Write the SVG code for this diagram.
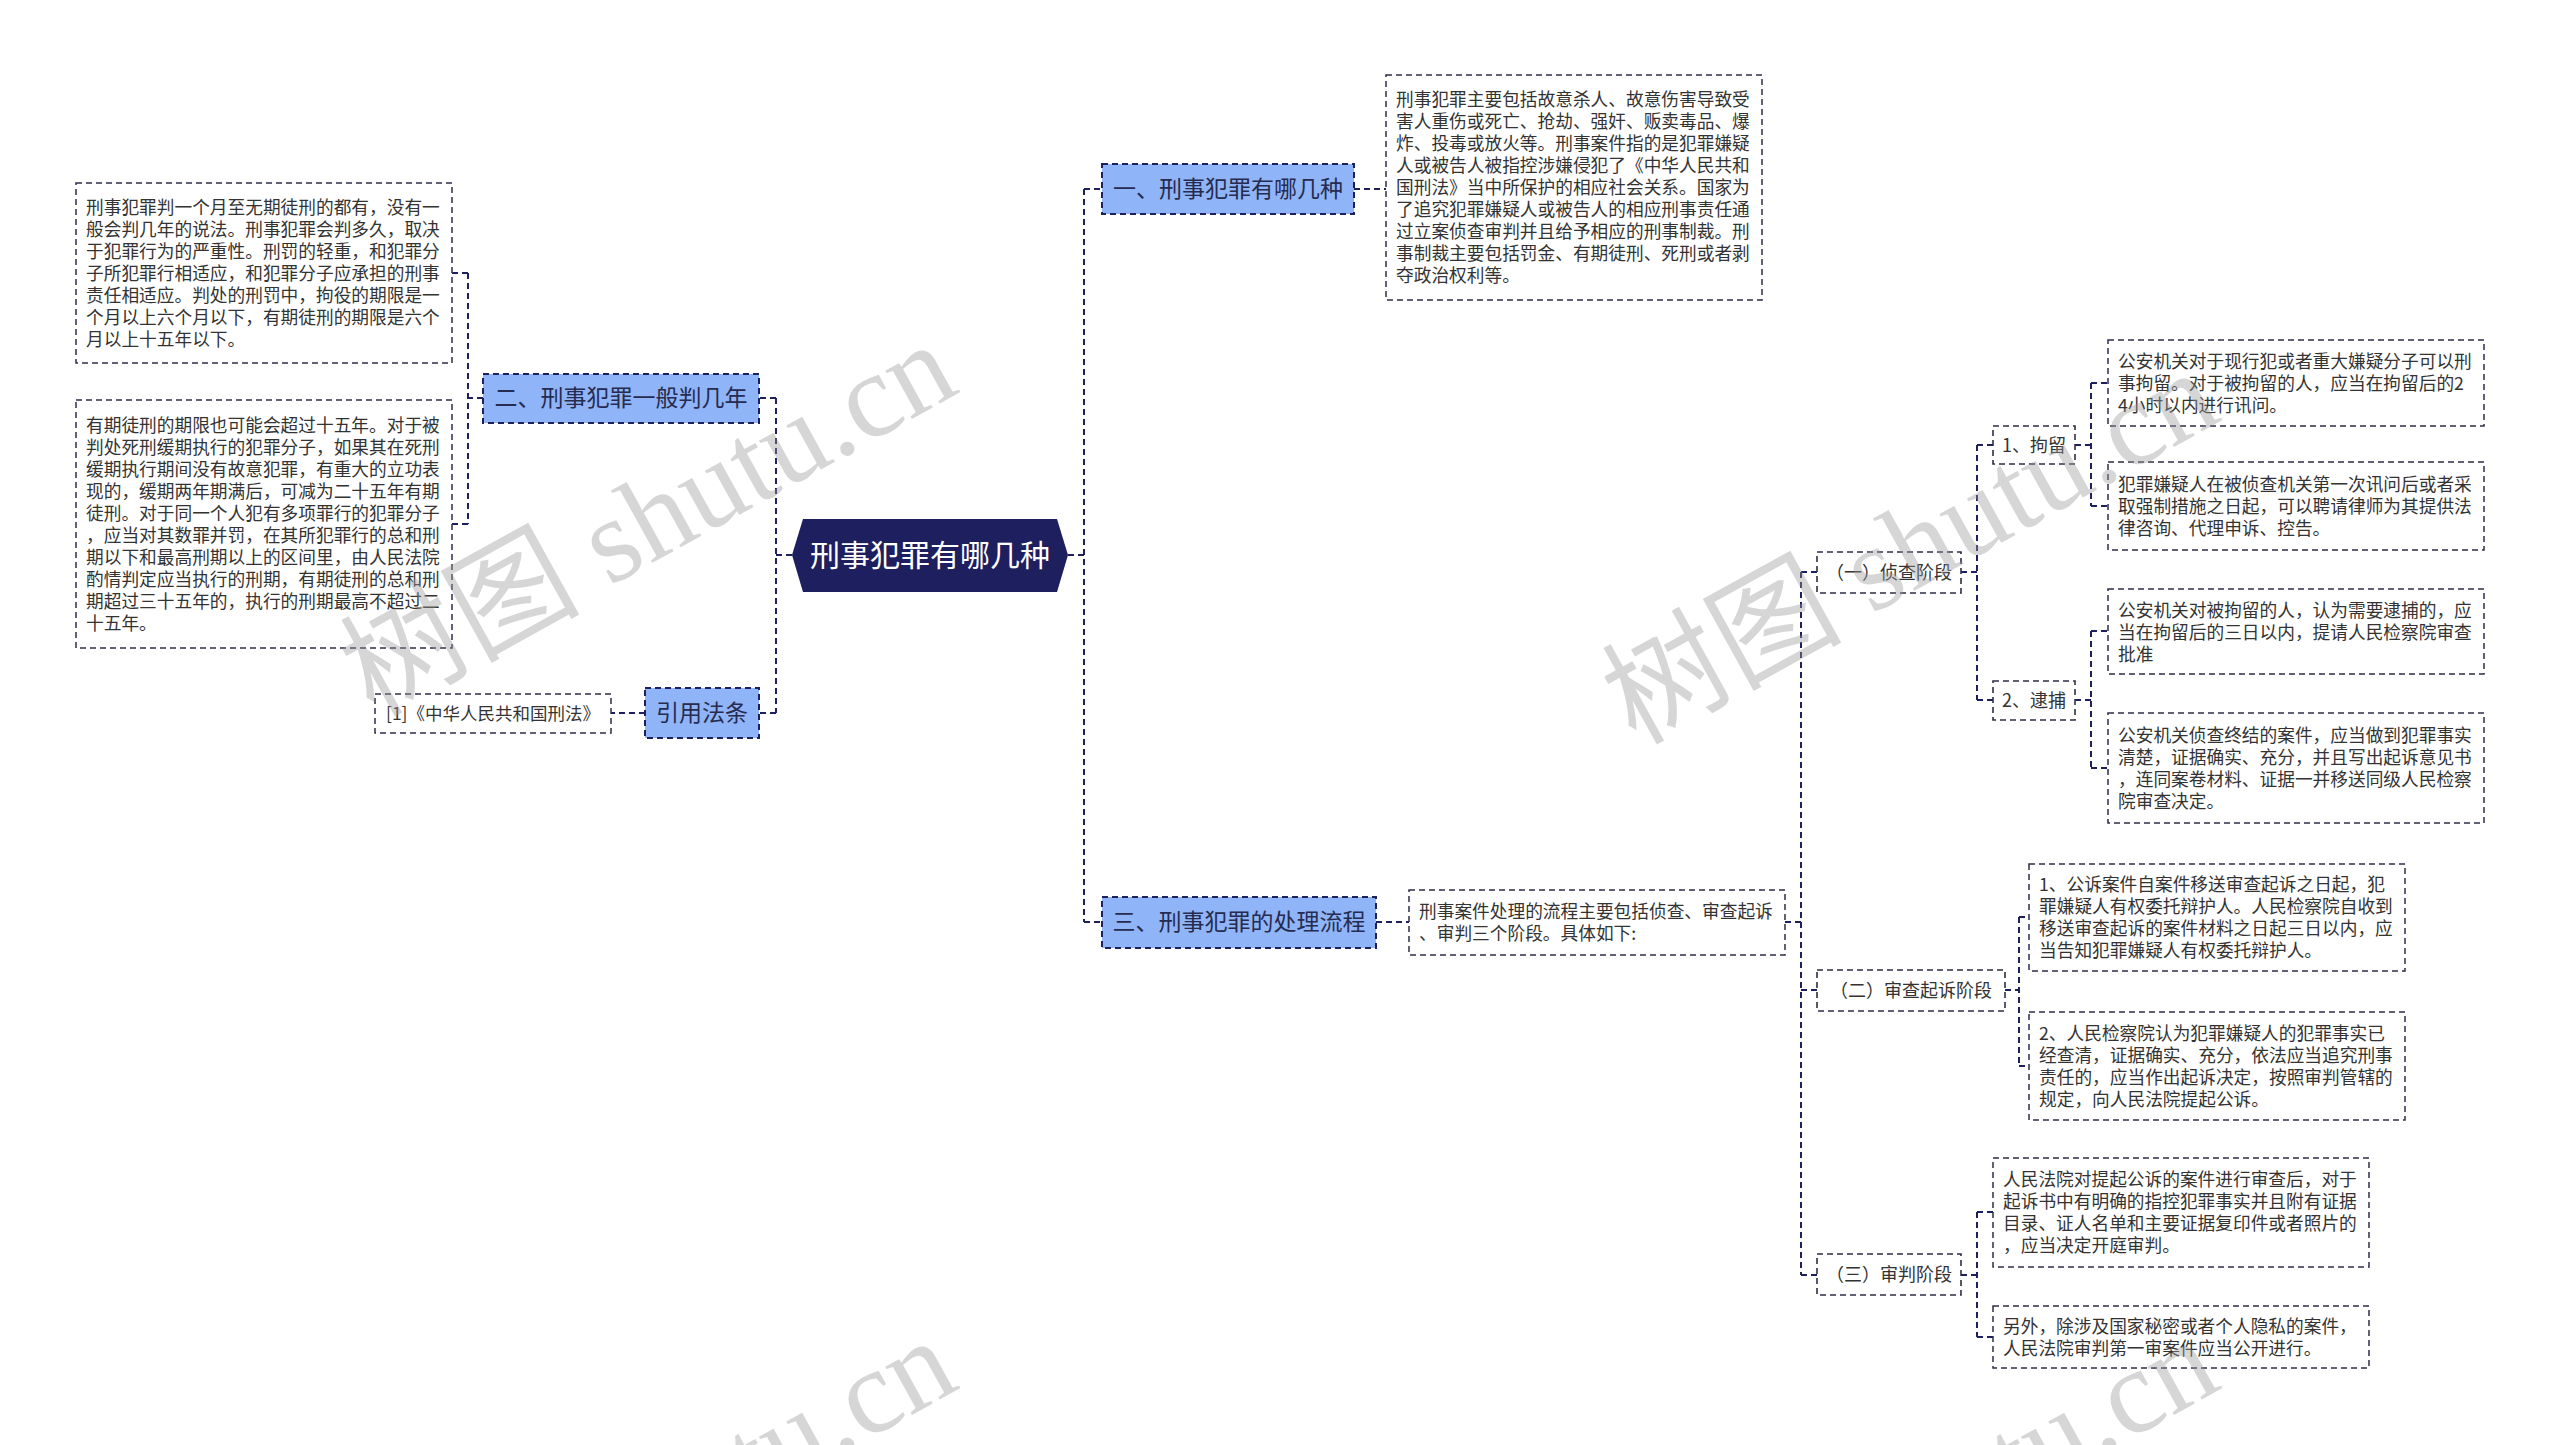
<svg xmlns="http://www.w3.org/2000/svg" width="2560" height="1445" viewBox="0 0 2560 1445">
<style>
.bg{fill:#ffffff}
.conn{fill:none;stroke:#1e1f5e;stroke-width:2;stroke-dasharray:6 4}
.tbox{fill:#ffffff;stroke:#2e2e48;stroke-width:1.5;stroke-dasharray:6 4}
.lbox{fill:#ffffff;stroke:#2e2e48;stroke-width:1.6;stroke-dasharray:6 4}
.bbox{fill:#8fb5f8;stroke:#1e1f5e;stroke-width:2;stroke-dasharray:6 4}
.txt{font-family:"Noto Sans CJK SC","Microsoft YaHei",sans-serif;font-size:17.7px;fill:#333333}
.ltxt{font-family:"Noto Sans CJK SC","Microsoft YaHei",sans-serif;font-size:18px;fill:#333333;text-anchor:middle}
.btxt{font-family:"Noto Sans CJK SC","Microsoft YaHei",sans-serif;font-size:23px;fill:#262b4f;text-anchor:middle}
.rtxt{font-family:"Noto Sans CJK SC","Microsoft YaHei",sans-serif;font-size:30px;fill:#ffffff;text-anchor:middle}
.wm{font-family:"Liberation Serif","Noto Sans CJK SC",serif;font-size:120px;fill:#9a9a9a;opacity:0.4;text-anchor:middle;dominant-baseline:central}
</style>
<rect class="bg" x="0" y="0" width="2560" height="1445"/>

<g id="connectors">
  <path class="conn" d="M1068,555 H1084 M1084,189 V922 M1084,189 H1102 M1084,922 H1102"/>
  <path class="conn" d="M792,555 H776 M776,398 V713 M776,398 H759 M776,713 H759"/>
  <path class="conn" d="M483,398 H468 M468,273 V524 M468,273 H452 M468,524 H452"/>
  <path class="conn" d="M645,713 H611"/>
  <path class="conn" d="M1354,189 H1386"/>
  <path class="conn" d="M1376,922 H1409"/>
  <path class="conn" d="M1785,922 H1801 M1801,572 V1275 M1801,572 H1817 M1801,990 H1817 M1801,1275 H1817"/>
  <path class="conn" d="M1961,572 H1977 M1977,445 V700 M1977,445 H1993 M1977,700 H1993"/>
  <path class="conn" d="M2075,445 H2091 M2091,383 V506 M2091,383 H2108 M2091,506 H2108"/>
  <path class="conn" d="M2075,700 H2091 M2091,631 V768 M2091,631 H2108 M2091,768 H2108"/>
  <path class="conn" d="M2005,990 H2019 M2019,917 V1066 M2019,917 H2029 M2019,1066 H2029"/>
  <path class="conn" d="M1961,1275 H1977 M1977,1212 V1337 M1977,1212 H1993 M1977,1337 H1993"/>
</g>

<g id="root">
  <polygon points="792,555 803,519 1057,519 1068,555 1057,592 803,592" fill="#1e1f5e"/>
  <text class="rtxt" x="930" y="566">刑事犯罪有哪几种</text>
</g>

<g id="n-er">
  <rect class="bbox" x="483" y="374" width="276" height="49"/>
  <text class="btxt" x="621" y="406">二、刑事犯罪一般判几年</text>
</g>
<g id="n-yinyong">
  <rect class="bbox" x="645" y="688" width="114" height="50"/>
  <text class="btxt" x="702" y="721">引用法条</text>
</g>
<g id="n-xingfa">
  <rect class="tbox" x="375" y="694" width="236" height="39"/>
  <text class="ltxt" x="493" y="720" style="font-size:17.5px">[1]《中华人民共和国刑法》</text>
</g>
<g id="n-l1">
  <rect class="tbox" x="76" y="183" width="376" height="180"/>
  <text class="txt">
    <tspan x="86" y="213.5">刑事犯罪判一个月至无期徒刑的都有，没有一</tspan>
    <tspan x="86" y="235.5">般会判几年的说法。刑事犯罪会判多久，取决</tspan>
    <tspan x="86" y="257.5">于犯罪行为的严重性。刑罚的轻重，和犯罪分</tspan>
    <tspan x="86" y="279.5">子所犯罪行相适应，和犯罪分子应承担的刑事</tspan>
    <tspan x="86" y="301.5">责任相适应。判处的刑罚中，拘役的期限是一</tspan>
    <tspan x="86" y="323.5">个月以上六个月以下，有期徒刑的期限是六个</tspan>
    <tspan x="86" y="345.5">月以上十五年以下。</tspan>
  </text>
</g>
<g id="n-l2">
  <rect class="tbox" x="76" y="400" width="376" height="248"/>
  <text class="txt">
    <tspan x="86" y="431.5">有期徒刑的期限也可能会超过十五年。对于被</tspan>
    <tspan x="86" y="453.5">判处死刑缓期执行的犯罪分子，如果其在死刑</tspan>
    <tspan x="86" y="475.5">缓期执行期间没有故意犯罪，有重大的立功表</tspan>
    <tspan x="86" y="497.5">现的，缓期两年期满后，可减为二十五年有期</tspan>
    <tspan x="86" y="519.5">徒刑。对于同一个人犯有多项罪行的犯罪分子</tspan>
    <tspan x="86" y="541.5">，应当对其数罪并罚，在其所犯罪行的总和刑</tspan>
    <tspan x="86" y="563.5">期以下和最高刑期以上的区间里，由人民法院</tspan>
    <tspan x="86" y="585.5">酌情判定应当执行的刑期，有期徒刑的总和刑</tspan>
    <tspan x="86" y="607.5">期超过三十五年的，执行的刑期最高不超过二</tspan>
    <tspan x="86" y="629.5">十五年。</tspan>
  </text>
</g>

<g id="n-yi">
  <rect class="bbox" x="1102" y="164" width="252" height="50"/>
  <text class="btxt" x="1228" y="197">一、刑事犯罪有哪几种</text>
</g>
<g id="n-t1">
  <rect class="tbox" x="1386" y="75" width="376" height="225"/>
  <text class="txt">
    <tspan x="1396" y="106">刑事犯罪主要包括故意杀人、故意伤害导致受</tspan>
    <tspan x="1396" y="128">害人重伤或死亡、抢劫、强奸、贩卖毒品、爆</tspan>
    <tspan x="1396" y="150">炸、投毒或放火等。刑事案件指的是犯罪嫌疑</tspan>
    <tspan x="1396" y="172">人或被告人被指控涉嫌侵犯了《中华人民共和</tspan>
    <tspan x="1396" y="194">国刑法》当中所保护的相应社会关系。国家为</tspan>
    <tspan x="1396" y="216">了追究犯罪嫌疑人或被告人的相应刑事责任通</tspan>
    <tspan x="1396" y="238">过立案侦查审判并且给予相应的刑事制裁。刑</tspan>
    <tspan x="1396" y="260">事制裁主要包括罚金、有期徒刑、死刑或者剥</tspan>
    <tspan x="1396" y="282">夺政治权利等。</tspan>
  </text>
</g>

<g id="n-san">
  <rect class="bbox" x="1102" y="897" width="274" height="51"/>
  <text class="btxt" x="1239" y="930">三、刑事犯罪的处理流程</text>
</g>
<g id="n-t3">
  <rect class="tbox" x="1409" y="890" width="376" height="65"/>
  <text class="txt">
    <tspan x="1419" y="918">刑事案件处理的流程主要包括侦查、审查起诉</tspan>
    <tspan x="1419" y="940">、审判三个阶段。具体如下:</tspan>
  </text>
</g>

<g id="n-zhencha">
  <rect class="lbox" x="1817" y="552" width="144" height="41"/>
  <text class="ltxt" x="1889" y="579">（一）侦查阶段</text>
</g>
<g id="n-juliu">
  <rect class="lbox" x="1993" y="426" width="82" height="38"/>
  <text class="ltxt" x="2034" y="451.5">1、拘留</text>
</g>
<g id="n-daibu">
  <rect class="lbox" x="1993" y="681" width="82" height="39"/>
  <text class="ltxt" x="2034" y="707">2、逮捕</text>
</g>
<g id="n-a1">
  <rect class="tbox" x="2108" y="340" width="376" height="86"/>
  <text class="txt">
    <tspan x="2118" y="367.5">公安机关对于现行犯或者重大嫌疑分子可以刑</tspan>
    <tspan x="2118" y="389.5">事拘留。对于被拘留的人，应当在拘留后的2</tspan>
    <tspan x="2118" y="411.5">4小时以内进行讯问。</tspan>
  </text>
</g>
<g id="n-a2">
  <rect class="tbox" x="2108" y="462" width="376" height="88"/>
  <text class="txt">
    <tspan x="2118" y="490.5">犯罪嫌疑人在被侦查机关第一次讯问后或者采</tspan>
    <tspan x="2118" y="512.5">取强制措施之日起，可以聘请律师为其提供法</tspan>
    <tspan x="2118" y="534.5">律咨询、代理申诉、控告。</tspan>
  </text>
</g>
<g id="n-b1">
  <rect class="tbox" x="2108" y="589" width="376" height="85"/>
  <text class="txt">
    <tspan x="2118" y="617">公安机关对被拘留的人，认为需要逮捕的，应</tspan>
    <tspan x="2118" y="639">当在拘留后的三日以内，提请人民检察院审查</tspan>
    <tspan x="2118" y="661">批准</tspan>
  </text>
</g>
<g id="n-b2">
  <rect class="tbox" x="2108" y="713" width="376" height="110"/>
  <text class="txt">
    <tspan x="2118" y="741.5">公安机关侦查终结的案件，应当做到犯罪事实</tspan>
    <tspan x="2118" y="763.5">清楚，证据确实、充分，并且写出起诉意见书</tspan>
    <tspan x="2118" y="785.5">，连同案卷材料、证据一并移送同级人民检察</tspan>
    <tspan x="2118" y="807.5">院审查决定。</tspan>
  </text>
</g>

<g id="n-shencha">
  <rect class="lbox" x="1817" y="970" width="188" height="41"/>
  <text class="ltxt" x="1911" y="997">（二）审查起诉阶段</text>
</g>
<g id="n-c1">
  <rect class="tbox" x="2029" y="864" width="376" height="107"/>
  <text class="txt">
    <tspan x="2039" y="891">1、公诉案件自案件移送审查起诉之日起，犯</tspan>
    <tspan x="2039" y="913">罪嫌疑人有权委托辩护人。人民检察院自收到</tspan>
    <tspan x="2039" y="935">移送审查起诉的案件材料之日起三日以内，应</tspan>
    <tspan x="2039" y="957">当告知犯罪嫌疑人有权委托辩护人。</tspan>
  </text>
</g>
<g id="n-c2">
  <rect class="tbox" x="2029" y="1012" width="376" height="108"/>
  <text class="txt">
    <tspan x="2039" y="1039.5">2、人民检察院认为犯罪嫌疑人的犯罪事实已</tspan>
    <tspan x="2039" y="1061.5">经查清，证据确实、充分，依法应当追究刑事</tspan>
    <tspan x="2039" y="1083.5">责任的，应当作出起诉决定，按照审判管辖的</tspan>
    <tspan x="2039" y="1105.5">规定，向人民法院提起公诉。</tspan>
  </text>
</g>

<g id="n-shenpan">
  <rect class="lbox" x="1817" y="1254" width="144" height="41"/>
  <text class="ltxt" x="1889" y="1281">（三）审判阶段</text>
</g>
<g id="n-d1">
  <rect class="tbox" x="1993" y="1158" width="376" height="109"/>
  <text class="txt">
    <tspan x="2003" y="1186">人民法院对提起公诉的案件进行审查后，对于</tspan>
    <tspan x="2003" y="1208">起诉书中有明确的指控犯罪事实并且附有证据</tspan>
    <tspan x="2003" y="1230">目录、证人名单和主要证据复印件或者照片的</tspan>
    <tspan x="2003" y="1252">，应当决定开庭审判。</tspan>
  </text>
</g>
<g id="n-d2">
  <rect class="tbox" x="1993" y="1306" width="376" height="62"/>
  <text class="txt">
    <tspan x="2003" y="1332.5">另外，除涉及国家秘密或者个人隐私的案件，</tspan>
    <tspan x="2003" y="1354.5">人民法院审判第一审案件应当公开进行。</tspan>
  </text>
</g>

<g id="watermarks">
  <text class="wm" transform="translate(648,519) rotate(-29)">树图 shutu.cn</text>
  <text class="wm" transform="translate(1910,547) rotate(-29)">树图 shutu.cn</text>
  <text class="wm" transform="translate(648,1515) rotate(-29)">树图 shutu.cn</text>
  <text class="wm" transform="translate(1910,1515) rotate(-29)">树图 shutu.cn</text>
</g>
</svg>
